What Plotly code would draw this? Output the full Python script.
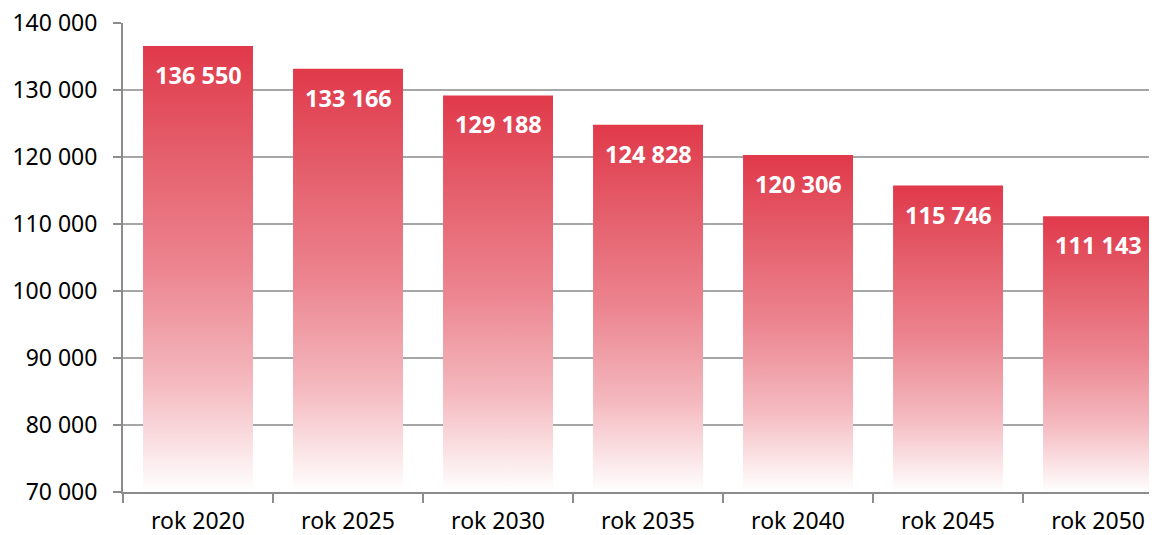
import plotly.graph_objects as go

categories = ["rok 2020", "rok 2025", "rok 2030", "rok 2035", "rok 2040", "rok 2045", "rok 2050"]
values = [136550, 133166, 129188, 124828, 120306, 115746, 111143]
y_ticks = [70000, 80000, 90000, 100000, 110000, 120000, 130000, 140000]

AXIS_MIN = 70000
BAR_W = 0.733
RED = "#E0394A"
FONT = "Noto Sans"

fig = go.Figure()
for i, v in enumerate(values):
    x0, x1 = i - BAR_W / 2, i + BAR_W / 2
    fig.add_trace(go.Scatter(
        x=[x0, x1, x1, x0, x0],
        y=[AXIS_MIN, AXIS_MIN, v, v, AXIS_MIN],
        mode="lines",
        fill="toself",
        line=dict(width=0),
        fillgradient=dict(type="vertical",
                          colorscale=[[0, "#FFFFFF"], [0.25, "#F4B8BE"],
                                      [0.5, "#EC8590"], [0.75, "#E5606D"], [1, RED]]),
        hoverinfo="skip",
        showlegend=False,
    ))
    fig.add_annotation(x=i, y=v, xref="x", yref="y", yanchor="top", yshift=-11,
                       text=f"{v:,}".replace(",", " "), showarrow=False,
                       font=dict(family=FONT, size=23.5, color="white", weight="bold"))

fig.update_layout(
    width=1149, height=527,
    margin=dict(l=115, r=0, t=15, b=43),
    paper_bgcolor="white", plot_bgcolor="white",
    separators=", ",
    font=dict(family=FONT, size=23, color="#000000"),
    showlegend=False,
)
fig.update_xaxes(
    range=[-0.5, 6.393], automargin=False,
    tickmode="array", tickvals=list(range(len(categories))), ticktext=categories,
    ticks="", showgrid=False, zeroline=False,
    showline=True, linecolor="#8C8C8C", linewidth=2,
    minor=dict(tickmode="linear", tick0=-0.5, dtick=1, ticks="outside",
               ticklen=9, tickcolor="#8C8C8C", tickwidth=2, showgrid=False),
    ticklabelstandoff=7, ticklabeloverflow="allow",
)
fig.update_yaxes(
    range=[AXIS_MIN, 140000], automargin=False,
    tickmode="array", tickvals=y_ticks, tickformat=",.0f",
    ticks="outside", ticklen=8, tickcolor="#8C8C8C", tickwidth=2,
    showgrid=True, gridcolor="#A6A6A6", gridwidth=2,
    zeroline=False, showline=True, linecolor="#8C8C8C", linewidth=2,
    ticklabelstandoff=11, ticklabeloverflow="allow",
)
fig.write_html("out.html")
